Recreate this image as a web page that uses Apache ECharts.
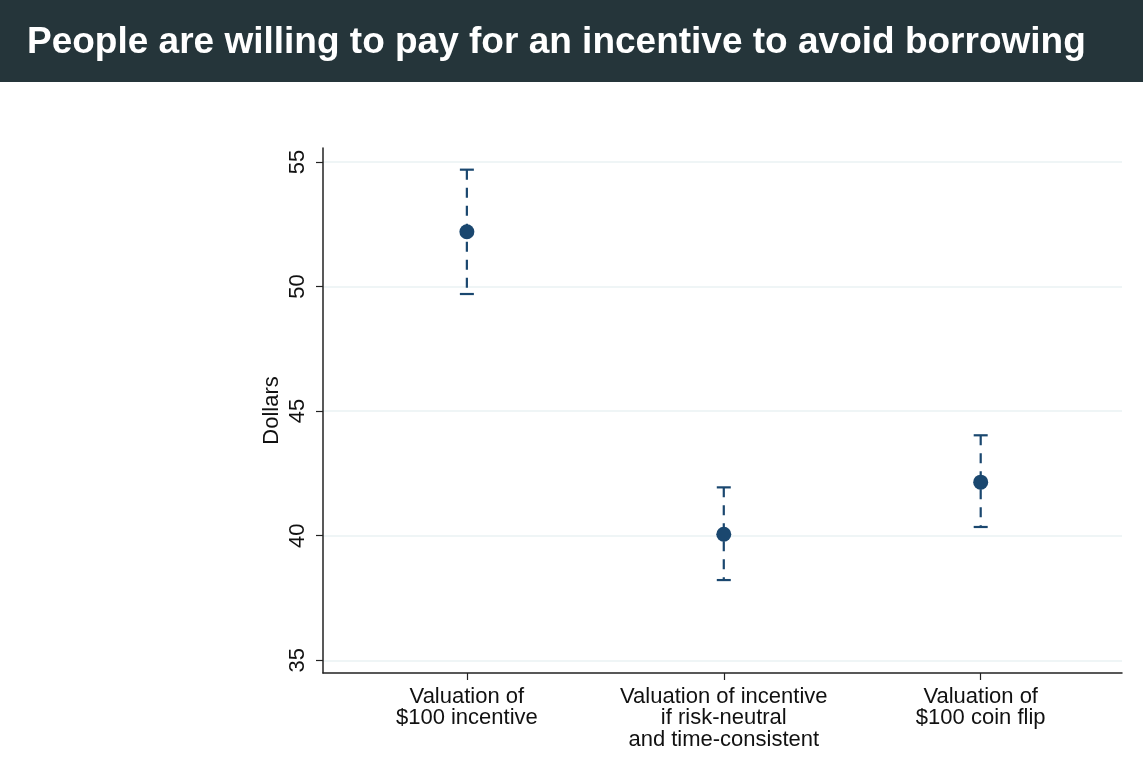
<!DOCTYPE html>
<html>
<head>
<meta charset="utf-8">
<script src="https://cdn.jsdelivr.net/npm/echarts@6/dist/echarts.min.js"></script>
<style>
html,body{margin:0;padding:0;background:#fff;}
#chart{width:1143px;height:769px;}
</style>
</head>
<body>
<div id="chart"></div>
<script>
const titleText = 'People are willing to pay for an incentive to avoid borrowing';
const yAxisName = 'Dollars';
const categories = ['Valuation of\n$100 incentive', 'Valuation of incentive\nif risk-neutral\nand time-consistent', 'Valuation of\n$100 coin flip'];
const xPositions = [1, 2, 3];
const estimates = [52.2, 40.06, 42.15];
const lower = [49.7, 38.22, 40.35];
const upper = [54.69, 41.94, 44.03];
const yTicks = [35, 40, 45, 50, 55];

const navy = '#1a476f';
const fontFamily = '"Liberation Sans", Arial, Helvetica, sans-serif';

const chart = echarts.init(document.getElementById('chart'));

function renderErrorBar(params, api) {
  const x = api.value(0);
  const lo = api.value(1);
  const hi = api.value(2);
  const pLo = api.coord([x, lo]);
  const pHi = api.coord([x, hi]);
  const hw = 7;
  return {
    type: 'group',
    children: [
      { type: 'line', shape: { x1: pHi[0], y1: pHi[1], x2: pLo[0], y2: pLo[1] },
        style: { stroke: navy, lineWidth: 2.2, lineDash: [10, 8] } },
      { type: 'line', shape: { x1: pHi[0] - hw, y1: pHi[1], x2: pHi[0] + hw, y2: pHi[1] },
        style: { stroke: navy, lineWidth: 2.2 } },
      { type: 'line', shape: { x1: pLo[0] - hw, y1: pLo[1], x2: pLo[0] + hw, y2: pLo[1] },
        style: { stroke: navy, lineWidth: 2.2 } }
    ]
  };
}

const option = {
  backgroundColor: '#ffffff',
  animation: false,
  graphic: [
    { type: 'rect', left: 0, top: 0, z: -1, shape: { width: 1143, height: 82 }, style: { fill: '#25353a' } }
  ],
  title: {
    text: titleText,
    left: 22,
    top: 19,
    textStyle: { color: '#ffffff', fontSize: 37, fontWeight: 'bold', fontFamily: fontFamily }
  },
  grid: { left: 323, right: 21, top: 148, bottom: 96, containLabel: false },
  xAxis: {
    type: 'value',
    min: 0.44,
    max: 3.55,
    axisLine: { show: true, onZero: false, lineStyle: { color: '#222', width: 1.5 } },
    axisTick: { show: true, length: 7, lineStyle: { color: '#222', width: 1.2 }, customValues: xPositions },
    axisLabel: {
      customValues: xPositions,
      margin: 13,
      fontSize: 22,
      lineHeight: 21.5,
      color: '#111',
      fontFamily: fontFamily,
      formatter: function (v) {
        const i = xPositions.indexOf(Math.round(v));
        return i >= 0 ? categories[i] : '';
      }
    },
    splitLine: { show: false }
  },
  yAxis: {
    type: 'value',
    min: 34.49,
    max: 55.56,
    name: yAxisName,
    nameLocation: 'middle',
    nameRotate: 90,
    nameGap: 40,
    nameMoveOverlap: false,
    nameTextStyle: { fontSize: 22, color: '#111', fontFamily: fontFamily },
    axisLine: { show: true, onZero: false, lineStyle: { color: '#222', width: 1.5 } },
    axisTick: { show: true, length: 7, lineStyle: { color: '#222', width: 1.2 }, customValues: yTicks },
    axisLabel: {
      customValues: yTicks,
      rotate: 90,
      margin: 14,
      fontSize: 22,
      color: '#111',
      fontFamily: fontFamily
    },
    splitLine: { show: true, lineStyle: { color: '#eaf2f3', width: 1.5 } }
  },
  series: [
    {
      type: 'custom',
      renderItem: renderErrorBar,
      data: xPositions.map((x, i) => [x, lower[i], upper[i]]),
      z: 2,
      silent: true
    },
    {
      type: 'scatter',
      symbol: 'circle',
      symbolSize: 15,
      itemStyle: { color: navy, opacity: 1 },
      data: xPositions.map((x, i) => [x, estimates[i]]),
      z: 3
    }
  ]
};
chart.setOption(option);
</script>
</body>
</html>
